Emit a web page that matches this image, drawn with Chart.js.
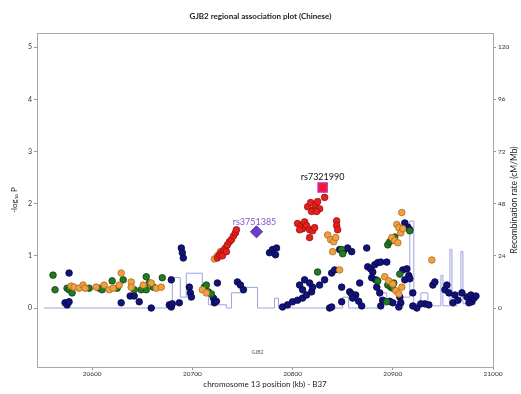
<!DOCTYPE html>
<html>
<head>
<meta charset="utf-8">
<script src="https://cdn.jsdelivr.net/npm/chart.js@4.4.1/dist/chart.umd.min.js"></script>
<style>
  html, body { margin: 0; padding: 0; background: #fff; }
</style>
</head>
<body>
<canvas id="plot" width="521" height="394"></canvas>
<script>
// positions in kb, values in -log10 P
const leadSnp = [[20830, 2.31]];
const secondSnp = [[20764, 1.46]];

const redSnps = [
  [20725, 0.96], [20727, 1.02], [20729, 1.06], [20731, 1.10], [20733, 1.15], [20735, 1.21],
  [20737, 1.27], [20739, 1.31], [20741, 1.38], [20743, 1.44], [20744, 1.50], [20730, 1.00],
  [20734, 1.08], [20832, 2.12], [20815, 1.94], [20818, 2.02], [20821, 1.88], [20823, 1.98],
  [20825, 2.04], [20827, 1.90], [20819, 1.85], [20824, 1.85], [20805, 1.62], [20808, 1.56],
  [20810, 1.52], [20812, 1.65], [20814, 1.58], [20817, 1.50], [20820, 1.48], [20822, 1.54],
  [20807, 1.50], [20817, 1.35], [20844, 1.67], [20844, 1.58], [20845, 1.50]
];

const orangeSnps = [
  [20579, 0.42], [20582, 0.40], [20587, 0.38], [20591, 0.44], [20593, 0.38], [20604, 0.40],
  [20612, 0.44], [20617, 0.35], [20621, 0.38], [20627, 0.44], [20629, 0.67], [20639, 0.50],
  [20639, 0.40], [20651, 0.44], [20659, 0.48], [20664, 0.38], [20669, 0.40], [20710, 0.35],
  [20714, 0.29], [20722, 0.94], [20725, 1.00], [20728, 1.08], [20835, 1.40], [20838, 1.31],
  [20841, 1.27], [20843, 1.35], [20840, 1.08], [20847, 0.73], [20909, 1.83], [20904, 1.60],
  [20906, 1.54], [20908, 1.44], [20910, 1.52], [20899, 1.35], [20902, 1.29], [20905, 1.25],
  [20892, 0.60], [20896, 0.52], [20900, 0.46], [20903, 0.33], [20906, 0.27], [20909, 0.40],
  [20939, 0.92]
];

const greenSnps = [
  [20561, 0.63], [20563, 0.35], [20575, 0.38], [20577, 0.35], [20580, 0.29], [20597, 0.38],
  [20607, 0.38], [20610, 0.35], [20620, 0.52], [20631, 0.54], [20625, 0.38], [20642, 0.35],
  [20649, 0.35], [20654, 0.60], [20657, 0.48], [20661, 0.40], [20654, 0.35], [20670, 0.58],
  [20712, 0.40], [20716, 0.31], [20719, 0.27], [20714, 0.44], [20825, 0.69], [20849, 1.12],
  [20850, 1.04], [20895, 1.21], [20897, 1.27], [20899, 1.31], [20902, 1.36], [20895, 0.44],
  [20898, 0.40], [20901, 0.48], [20917, 1.48], [20894, 0.12], [20885, 0.52], [20907, 0.65],
  [20900, 0.38]
];

const navySnps = [
  [20573, 0.10], [20575, 0.06], [20577, 0.12], [20577, 0.67], [20629, 0.10], [20638, 0.23],
  [20642, 0.23], [20647, 0.12], [20659, 0.00], [20677, 0.06], [20679, 0.02], [20680, 0.08],
  [20679, 0.54], [20687, 0.10], [20689, 1.15], [20690, 1.06], [20691, 0.96], [20697, 0.40],
  [20698, 0.29], [20699, 0.21], [20722, 0.10], [20725, 0.48], [20721, 0.19], [20724, 0.13],
  [20745, 0.50], [20748, 0.44], [20751, 0.35], [20777, 1.06], [20780, 1.12], [20783, 1.02],
  [20784, 1.15], [20790, 0.02], [20795, 0.06], [20800, 0.12], [20805, 0.15], [20810, 0.19],
  [20814, 0.25], [20819, 0.31], [20807, 0.44], [20810, 0.35], [20820, 0.40], [20827, 0.44],
  [20832, 0.54], [20839, 0.67], [20842, 0.73], [20812, 0.54], [20817, 0.48], [20837, 0.00],
  [20839, 0.02], [20847, 1.12], [20851, 1.10], [20855, 1.15], [20859, 1.08], [20874, 1.15],
  [20849, 0.40], [20857, 0.31], [20859, 0.27], [20863, 0.25], [20866, 0.13], [20869, 0.04],
  [20849, 0.12], [20860, 0.19], [20867, 0.48], [20875, 0.79], [20878, 0.75], [20880, 0.69],
  [20882, 0.83], [20885, 0.87], [20888, 0.88], [20879, 0.58], [20883, 0.54], [20884, 0.40],
  [20887, 0.29], [20890, 0.15], [20888, 0.04], [20894, 0.88], [20910, 0.73], [20914, 0.75],
  [20916, 0.62], [20912, 0.54], [20917, 0.56], [20912, 1.63], [20915, 1.55], [20917, 1.50],
  [20907, 0.21], [20908, 0.10], [20906, 0.02], [20897, 0.13], [20900, 0.10], [20920, 0.29],
  [20924, 0.00], [20932, 0.08], [20936, 0.06], [20940, 0.44], [20942, 0.50], [20952, 0.35],
  [20954, 0.44], [20956, 0.29], [20960, 0.10], [20962, 0.25], [20965, 0.15], [20969, 0.29],
  [20974, 0.21], [20978, 0.25], [20979, 0.12], [20976, 0.10], [20981, 0.19], [20983, 0.23],
  [20920, 0.04], [20928, 0.08]
];

// recombination rate (cM/Mb), each value held from its position to the next one
const recombPos = [
  20552, 20680, 20688, 20694, 20710, 20716, 20734, 20739, 20752, 20765, 20782, 20786,
  20850, 20856, 20887, 20894, 20907, 20910, 20917, 20921, 20928, 20935, 20948, 20950,
  20957, 20959, 20964, 20968, 20970, 20980, 20985
];
const recombRate = [
  0, 14, 5, 16, 8, 1.5, 0, 7, 9.5, 0, 4.5, 0,
  5, 0, 7, 3, 0, 5, 40, 2, 7, 1, 15, 1,
  27, 1, 3, 26, 2, 4, 4
];

const leftTicks = [0, 1, 2, 3, 4, 5];
const rightTicks = [0, 24, 48, 72, 96, 120];
const posTicks = [20600, 20700, 20800, 20900, 21000];

const toXY = arr => arr.map(p => ({ x: p[0], y: p[1] }));
const font = 'Lato, "Open Sans", sans-serif';

function snpSet(data, fill, border, order) {
  return {
    type: 'scatter',
    data: toXY(data),
    backgroundColor: fill,
    borderColor: border,
    borderWidth: 0.8,
    pointRadius: 3.3,
    order: order
  };
}

// box top edge, right axis title, SNP names and gene name
const extras = {
  id: 'extras',
  afterDatasetsDraw(chart) {
    const { ctx, chartArea: a, scales: { x, y } } = chart;
    ctx.save();
    ctx.strokeStyle = '#a8a8a8';
    ctx.lineWidth = 1;
    ctx.beginPath();
    ctx.moveTo(a.left, a.top + 0.5);
    ctx.lineTo(a.right, a.top + 0.5);
    ctx.stroke();

    ctx.textAlign = 'center';
    ctx.textBaseline = 'bottom';
    ctx.font = '9px ' + font;
    ctx.fillStyle = '#111';
    ctx.fillText('rs7321990', x.getPixelForValue(leadSnp[0][0]), y.getPixelForValue(leadSnp[0][1]) - 6);
    ctx.fillStyle = '#8a4fd8';
    ctx.fillText('rs3751385', x.getPixelForValue(secondSnp[0][0]) - 2, y.getPixelForValue(secondSnp[0][1]) - 5);

    ctx.font = '5px ' + font;
    ctx.fillStyle = '#555';
    ctx.textBaseline = 'middle';
    ctx.fillText('GJB2', x.getPixelForValue(20765), y.getPixelForValue(-0.85));

    ctx.translate(514, (a.top + a.bottom) / 2);
    ctx.rotate(-Math.PI / 2);
    ctx.font = '8.5px ' + font;
    ctx.fillStyle = '#222';
    ctx.fillText('Recombination rate (cM/Mb)', 0, 0);
    ctx.restore();
  }
};

new Chart(document.getElementById('plot'), {
  type: 'scatter',
  data: {
    datasets: [
      {
        type: 'scatter',
        data: toXY(leadSnp),
        pointStyle: 'rect',
        pointRadius: 6,
        backgroundColor: '#ff1030',
        borderColor: '#d02890',
        borderWidth: 2,
        order: 0
      },
      {
        type: 'scatter',
        data: toXY(secondSnp),
        pointStyle: 'rectRot',
        pointRadius: 6,
        backgroundColor: '#6a3cd0',
        borderColor: '#4a28a0',
        borderWidth: 1,
        order: 1
      },
      snpSet(redSnps, '#e8201c', '#9a1010', 2),
      snpSet(orangeSnps, '#f0a040', '#b06a20', 3),
      snpSet(greenSnps, '#237a23', '#0e400e', 4),
      snpSet(navySnps, '#12127e', '#05053a', 5),
      {
        type: 'line',
        data: recombPos.map((p, i) => ({ x: p, y: recombRate[i] })),
        yAxisID: 'y2',
        stepped: 'before',
        borderColor: '#a0a0e0',
        borderWidth: 1,
        pointRadius: 0,
        fill: false,
        order: 10
      }
    ]
  },
  options: {
    responsive: false,
    animation: false,
    layout: { padding: 0 },
    plugins: {
      legend: { display: false },
      tooltip: { enabled: false },
      title: {
        display: true,
        text: 'GJB2 regional association plot (Chinese)',
        color: '#222',
        font: { family: font, size: 8 },
        padding: { top: 12, bottom: 11.4 }
      }
    },
    scales: {
      x: {
        type: 'linear',
        min: 20545,
        max: 21000,
        afterBuildTicks: s => { s.ticks = posTicks.map(v => ({ value: v })); },
        afterFit: s => { s.height = 27; },
        ticks: { color: '#333', font: { family: font, size: 6.5 }, padding: 0, maxRotation: 0,
                 callback: v => String(v) },
        grid: { drawOnChartArea: false, tickLength: 3, color: '#999' },
        border: { color: '#a8a8a8' },
        title: {
          display: true,
          text: 'chromosome 13 position (kb) - B37',
          color: '#222',
          font: { family: font, size: 8 },
          padding: { top: 0, bottom: 5 }
        }
      },
      y: {
        position: 'left',
        min: -1.13,
        max: 5.27,
        afterBuildTicks: s => { s.ticks = leftTicks.map(v => ({ value: v })); },
        afterFit: s => { s.width = 37; },
        ticks: { color: '#333', font: { family: font, size: 7 }, padding: 2 },
        grid: { drawOnChartArea: false, tickLength: 3, color: '#999' },
        border: { color: '#a8a8a8' },
        title: {
          display: true,
          text: '-log\u2081\u2080 P',
          color: '#222',
          font: { family: font, size: 8 },
          padding: { top: 10, bottom: 0 }
        }
      },
      y2: {
        position: 'right',
        min: -1.13 * 24,
        max: 5.27 * 24,
        afterBuildTicks: s => { s.ticks = rightTicks.map(v => ({ value: v })); },
        afterFit: s => { s.width = 28; },
        ticks: { color: '#333', font: { family: font, size: 6.5 }, padding: 2 },
        grid: { drawOnChartArea: false, tickLength: 3, color: '#999' },
        border: { color: '#a8a8a8' }
      }
    }
  },
  plugins: [extras]
});
</script>
</body>
</html>
